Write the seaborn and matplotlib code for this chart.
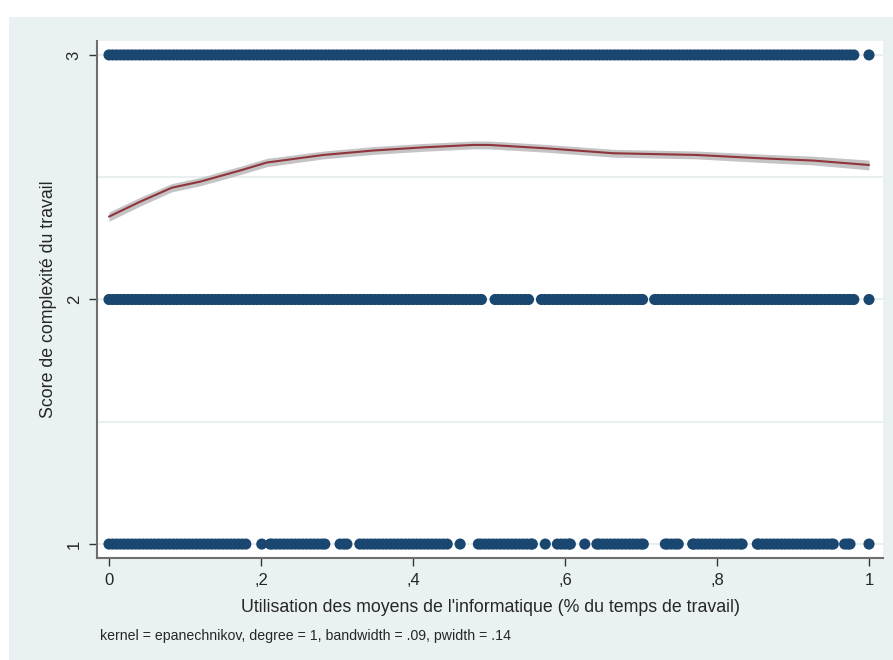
"""Lpoly-style chart: job complexity score vs. share of time using computers."""

import matplotlib.pyplot as plt
import numpy as np
import pandas as pd
import seaborn as sns
from matplotlib.patches import Rectangle

# observed x values (percent of working time) for each score level
SCORE_3_X = [
    0, 0.5, 1, 1.5, 2, 2.5, 3, 3.5, 4, 4.5, 5, 5.5, 6, 6.5, 7, 7.5, 8, 8.5, 9, 9.5,
    10, 10.5, 11, 11.5, 12, 12.5, 13, 13.5, 14, 14.5, 15, 15.5, 16, 16.5, 17, 17.5, 18, 18.5, 19, 19.5,
    20, 20.5, 21, 21.5, 22, 22.5, 23, 23.5, 24, 24.5, 25, 25.5, 26, 26.5, 27, 27.5, 28, 28.5, 29, 29.5,
    30, 30.5, 31, 31.5, 32, 32.5, 33, 33.5, 34, 34.5, 35, 35.5, 36, 36.5, 37, 37.5, 38, 38.5, 39, 39.5,
    40, 40.5, 41, 41.5, 42, 42.5, 43, 43.5, 44, 44.5, 45, 45.5, 46, 46.5, 47, 47.5, 48, 48.5, 49, 49.5,
    50, 50.5, 51, 51.5, 52, 52.5, 53, 53.5, 54, 54.5, 55, 55.5, 56, 56.5, 57, 57.5, 58, 58.5, 59, 59.5,
    60, 60.5, 61, 61.5, 62, 62.5, 63, 63.5, 64, 64.5, 65, 65.5, 66, 66.5, 67, 67.5, 68, 68.5, 69, 69.5,
    70, 70.5, 71, 71.5, 72, 72.5, 73, 73.5, 74, 74.5, 75, 75.5, 76, 76.5, 77, 77.5, 78, 78.5, 79, 79.5,
    80, 80.5, 81, 81.5, 82, 82.5, 83, 83.5, 84, 84.5, 85, 85.5, 86, 86.5, 87, 87.5, 88, 88.5, 89, 89.5,
    90, 90.5, 91, 91.5, 92, 92.5, 93, 93.5, 94, 94.5, 95, 95.5, 96, 96.5, 97, 97.5, 98,
    100,
]
SCORE_2_X = [
    0, 0.5, 1, 1.5, 2, 2.5, 3, 3.5, 4, 4.5, 5, 5.5, 6, 6.5, 7, 7.5, 8, 8.5, 9, 9.5,
    10, 10.5, 11, 11.5, 12, 12.5, 13, 13.5, 14, 14.5, 15, 15.5, 16, 16.5, 17, 17.5, 18, 18.5, 19, 19.5,
    20, 20.5, 21, 21.5, 22, 22.5, 23, 23.5, 24, 24.5, 25, 25.5, 26, 26.5, 27, 27.5, 28, 28.5, 29, 29.5,
    30, 30.5, 31, 31.5, 32, 32.5, 33, 33.5, 34, 34.5, 35, 35.5, 36, 36.5, 37, 37.5, 38, 38.5, 39, 39.5,
    40, 40.5, 41, 41.5, 42, 42.5, 43, 43.5, 44, 44.5, 45, 45.5, 46, 46.5, 47, 47.5, 48, 48.5, 49,
    50.8, 51.2, 51.7, 52.2, 52.7, 53.2, 53.7, 54.2, 54.7, 55.2,
    56.9, 57.4, 57.9, 58.4, 58.9, 59.4, 59.9, 60.4, 60.9, 61.4, 61.9, 62.4, 62.9, 63.4, 63.9, 64.4,
    64.9, 65.4, 65.9, 66.4, 66.9, 67.4, 67.9, 68.4, 68.9, 69.4, 69.8, 70.2,
    71.8, 72.2, 72.7, 73.2, 73.7, 74.2, 74.7, 75.2, 75.7, 76.2, 76.7, 77.2, 77.7, 78.2, 78.7, 79.2,
    79.7, 80.2, 80.7, 81.2, 81.7, 82.2, 82.7, 83.2, 83.7, 84.2, 84.7, 85.2, 85.7, 86.2, 86.7, 87.2,
    87.7, 88.2, 88.7, 89.2, 89.7, 90.2, 90.7, 91.2, 91.7, 92.2, 92.7, 93.2, 93.7, 94.2, 94.7, 95.2,
    95.7, 96.2, 96.7, 97.2, 97.6, 98,
    100,
]
SCORE_1_X = [
    0, 0.5, 1, 1.5, 2, 2.5, 3, 3.5, 4, 4.5, 5, 5.5, 6, 6.5, 7, 7.5, 8, 8.5, 9, 9.5,
    10, 10.5, 11, 11.5, 12, 12.5, 13, 13.5, 14, 14.5, 15, 15.5, 16, 16.5, 17, 17.5, 18,
    20.1,
    21.2, 21.5, 22, 22.5, 23, 23.5, 24, 24.5, 25, 25.5, 26, 26.5, 27, 27.5, 28, 28.4,
    30.4, 30.9, 31.3,
    33, 33.5, 34, 34.5, 35, 35.5, 36, 36.5, 37, 37.5, 38, 38.5, 39, 39.5, 40, 40.5,
    41, 41.5, 42, 42.5, 43, 43.5, 44, 44.5,
    46.2,
    48.6, 49, 49.5, 50, 50.5, 51, 51.5, 52, 52.5, 53, 53.5, 54, 54.5, 55, 55.5, 55.7,
    57.4,
    59, 59.5, 60, 60.5, 60.7,
    62.6,
    64.2, 64.5, 65, 65.5, 66, 66.5, 67, 67.5, 68, 68.5, 69, 69.5, 70, 70.3,
    73.2, 73.5, 74, 74.5, 74.9,
    76.8, 77, 77.5, 78, 78.5, 79, 79.5, 80, 80.5, 81, 81.5, 82, 82.5, 83, 83.3,
    85.3, 85.5, 86, 86.5, 87, 87.5, 88, 88.5, 89, 89.5, 90, 90.5, 91, 91.5, 92, 92.5,
    93, 93.5, 94, 94.5, 95, 95.3,
    96.8, 97.2, 97.5,
    100,
]

# local polynomial fit and half-width of its confidence band
FIT_X = [0.0, 0.041, 0.0825, 0.12, 0.172, 0.2075, 0.282, 0.347, 0.413, 0.479,
         0.5, 0.576, 0.664, 0.773, 0.861, 0.927, 1.0]
FIT_Y = [2.339, 2.400, 2.457, 2.482, 2.527, 2.560, 2.591, 2.609, 2.622, 2.632,
         2.632, 2.618, 2.598, 2.591, 2.577, 2.568, 2.550]
FIT_HALF_CI = [0.019, 0.018, 0.017, 0.017, 0.017, 0.017, 0.016, 0.016, 0.016, 0.016,
               0.016, 0.016, 0.016, 0.016, 0.017, 0.018, 0.020]

X_TICKS = [0, 0.2, 0.4, 0.6, 0.8, 1]
X_TICK_LABELS = ["0", ",2", ",4", ",6", ",8", "1"]
Y_TICKS = [1, 2, 3]

BG = "#eaf1f3"
NAVY = "#1a476f"
MAROON = "#90353b"

points = pd.concat(
    [
        pd.DataFrame({"x": np.array(xs) / 100, "score": level})
        for level, xs in [(3, SCORE_3_X), (2, SCORE_2_X), (1, SCORE_1_X)]
    ],
    ignore_index=True,
)
fit = pd.DataFrame({"x": FIT_X, "y": FIT_Y, "half": FIT_HALF_CI})

sns.set_style("white")
plt.rcParams["font.family"] = ["Liberation Sans", "DejaVu Sans"]

W, H = 893, 660
fig = plt.figure(figsize=(W / 100, H / 100), dpi=100, facecolor="white")
fig.patches.append(
    Rectangle((9 / W, 0), (W - 9) / W, (H - 17) / H,
              transform=fig.transFigure, facecolor=BG, edgecolor="none", zorder=-1)
)

ax = fig.add_axes([97 / W, (H - 558) / H, (883 - 97) / W, (558 - 41) / H])
ax.set_facecolor("white")

for gy in [1, 1.5, 2, 2.5, 3]:
    ax.axhline(gy, color="#e3ecef", linewidth=1.2, zorder=0)

sns.scatterplot(data=points, x="x", y="score", ax=ax, color=NAVY, s=64,
                edgecolor="none", linewidth=0, zorder=3, legend=False)

ax.fill_between(fit["x"], fit["y"] - fit["half"], fit["y"] + fit["half"],
                color="#c4c4c4", linewidth=0, zorder=4)
sns.lineplot(data=fit, x="x", y="y", ax=ax, color=MAROON, linewidth=1.5, zorder=5)

ax.set_xlim(-0.0158, 1.0184)
ax.set_ylim(0.943, 3.057)
ax.set_xticks(X_TICKS)
ax.set_xticklabels(X_TICK_LABELS)
ax.set_yticks(Y_TICKS)
ax.set_yticklabels([str(t) for t in Y_TICKS], rotation=90, va="center")

for side in ["top", "right"]:
    ax.spines[side].set_visible(False)
for side in ["left", "bottom"]:
    ax.spines[side].set_color("#6e6e6e")
    ax.spines[side].set_linewidth(1.5)

ax.tick_params(axis="both", which="major", direction="out", length=6, width=1,
               color="#333333", labelsize=12, pad=5, left=True, bottom=True)

ax.set_xlabel("Utilisation des moyens de l'informatique (% du temps de travail)",
              fontsize=12.8, labelpad=8)
ax.set_ylabel("Score de complexité du travail", fontsize=12.8, labelpad=7)

fig.text(100 / W, 1 - 636 / H,
         "kernel = epanechnikov, degree = 1, bandwidth = .09, pwidth = .14",
         fontsize=10.2, va="center", ha="left")

fig.savefig("out.png", dpi=100, facecolor="white")
